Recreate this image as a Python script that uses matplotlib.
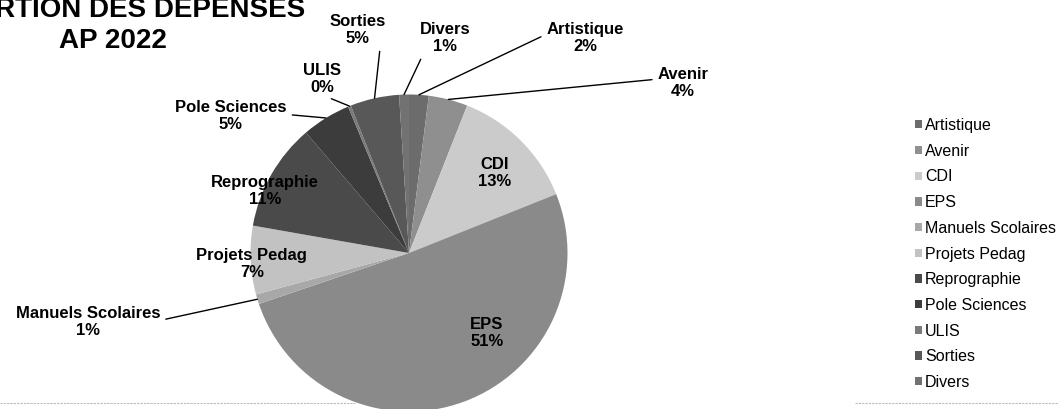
import matplotlib
matplotlib.use("Agg")
import matplotlib.pyplot as plt
from matplotlib.lines import Line2D
import numpy as np

plt.rcParams['font.family'] = ['Liberation Sans', 'DejaVu Sans']

# Data (percentages)
categories = ['Artistique', 'Avenir', 'CDI', 'EPS', 'Manuels Scolaires',
              'Projets Pedag', 'Reprographie', 'Pole Sciences', 'ULIS',
              'Sorties', 'Divers']
values = [2.0, 4.0, 13.0, 51.0, 1.0, 7.0, 11.0, 5.0, 0.3, 5.0, 1.0]
colors = ['#6c6c6c', '#8f8f8f', '#cbcbcb', '#8a8a8a', '#a8a8a8',
          '#c2c2c2', '#4a4a4a', '#3c3c3c', '#7a7a7a', '#585858', '#727272']

# label placement in pie-axes coords: x, y, leader line?, point on text box where the leader starts
label_pos = {
    'Artistique': (1.110, 1.356, True, (0.0, 0.62)),
    'Avenir': (1.729, 1.073, True, (0.0, 0.62)),
    'CDI': (0.543, 0.505, False, None),
    'EPS': (0.492, -0.505, False, None),
    'Manuels Scolaires': (-2.025, -0.435, True, (1.0, 0.55)),
    'Projets Pedag': (-0.991, -0.069, False, None),
    'Reprographie': (-0.909, 0.391, False, None),
    'Pole Sciences': (-1.123, 0.864, True, (1.0, 0.55)),
    'ULIS': (-0.549, 1.098, True, (0.5, 0.0)),
    'Sorties': (-0.322, 1.407, True, (0.9, 0.05)),
    'Divers': (0.227, 1.356, True, (0.1, 0.1)),
}

W, H = 1058, 409
fig = plt.figure(figsize=(W / 100, H / 100), dpi=100)

cx, cy, r = 409, 253, 158.5
ax = fig.add_axes([(cx - r) / W, (H - cy - r) / H, 2 * r / W, 2 * r / H])

wedges, _ = ax.pie(values, colors=colors, startangle=90, counterclock=False,
                   radius=1, wedgeprops=dict(linewidth=0))
ax.set_xlim(-1, 1)
ax.set_ylim(-1, 1)
ax.set_aspect('equal')
ax.axis('off')

total = sum(values)
for w, name, v in zip(wedges, categories, values):
    x, y, leader, rel = label_pos[name]
    txt = f"{name}\n{v / total * 100:.0f}%"
    if leader:
        mid = np.deg2rad((w.theta1 + w.theta2) / 2)
        ax.annotate(txt, xy=(np.cos(mid), np.sin(mid)), xytext=(x, y),
                    ha='center', va='center', fontsize=12, fontweight='bold',
                    linespacing=1.15, annotation_clip=False,
                    arrowprops=dict(arrowstyle='-', color='black', lw=1,
                                    shrinkA=2, shrinkB=0, relpos=rel),
                    clip_on=False)
    else:
        ax.text(x, y, txt, ha='center', va='center', fontsize=12,
                fontweight='bold', linespacing=1.15, clip_on=False)

# title, centred over the left margin (its left part is cut off in the scan)
fig.text(113 / W, 1 - 17 / H, "RÉPARTION DES DÉPENSES", ha='center',
         va='baseline', fontsize=20, fontweight='bold')
fig.text(113 / W, 1 - 48 / H, "AP 2022", ha='center', va='baseline',
         fontsize=20, fontweight='bold')

leg = fig.legend(wedges, categories, loc='upper left',
                 bbox_to_anchor=(915 / W, 1 - 118 / H), frameon=False,
                 fontsize=11.5, handlelength=0.42, handleheight=0.42,
                 handletextpad=0.22, labelspacing=0.67, borderpad=0,
                 borderaxespad=0)

# faint scan border at the bottom
fig.add_artist(Line2D([0, 355 / W], [6 / H, 6 / H], color='#bbbbbb', lw=0.8,
                      ls=(0, (2, 1))))
fig.add_artist(Line2D([855 / W, 1], [6 / H, 6 / H], color='#bbbbbb', lw=0.8,
                      ls=(0, (2, 1))))

fig.savefig('out.png', dpi=100)
